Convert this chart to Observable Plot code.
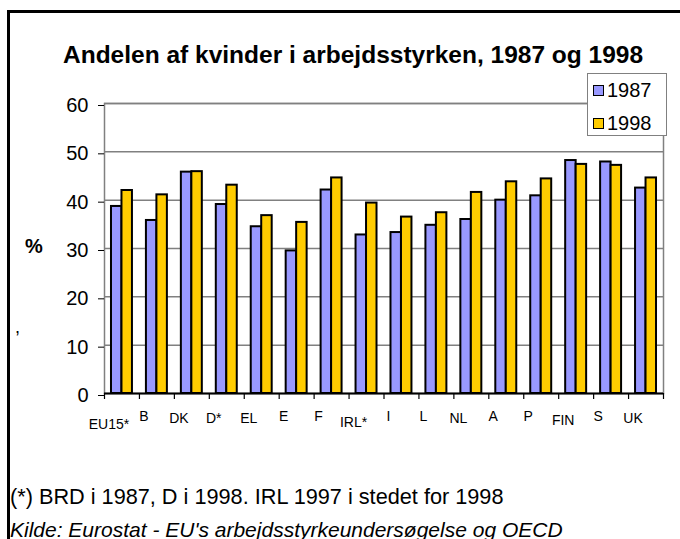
<!DOCTYPE html>
<html>
<head>
<meta charset="utf-8">
<script src="https://cdn.jsdelivr.net/npm/d3@7"></script>
<script src="https://cdn.jsdelivr.net/npm/@observablehq/plot@0.6"></script>
<style>
  html, body { margin: 0; padding: 0; background: #fff; }
  #wrap { position: relative; width: 680px; height: 539px; overflow: hidden; font-family: "Liberation Sans", Arial, sans-serif; color: #000; }
  #chart { position: absolute; left: 0; top: 0; }
  #frame { position: absolute; left: 7px; top: 10px; width: 720px; height: 600px; border-left: 3px solid #000; border-top: 3px solid #000; }
  .abs { position: absolute; white-space: nowrap; line-height: 1; }
  #title { left: 63px; top: 43px; font-size: 24.5px; font-weight: bold; }
  #ylab { left: 25px; top: 236px; font-size: 20px; font-weight: bold; }
  #comma { left: 15px; top: 318px; font-size: 18px; }
  #legend { position: absolute; left: 587px; top: 73px; width: 80px; height: 63px; border: 1px solid #808080; background: #fff; box-sizing: border-box; }
  .li { position: absolute; left: 5px; font-size: 20px; line-height: 1; display: flex; align-items: center; }
  .sw { width: 9px; height: 9px; border: 1.5px solid #000; margin-right: 3px; }
  #foot1 { left: 10px; top: 486px; font-size: 21.7px; }
  #foot2 { left: 10px; top: 519px; font-size: 21px; font-style: italic; }
</style>
</head>
<body>
<div id="wrap">
  <div id="chart"></div>
  <div id="frame"></div>
  <div id="title" class="abs"></div>
  <div id="ylab" class="abs"></div>
  <div id="comma" class="abs"></div>
  <div id="legend"></div>
  <div id="foot1" class="abs"></div>
  <div id="foot2" class="abs"></div>
</div>
<script>
// ---- data ----
const titleText = "Andelen af kvinder i arbejdsstyrken, 1987 og 1998";
const yLabel = "%";
const countries = ["EU15*","B","DK","D*","EL","E","F","IRL*","I","L","NL","A","P","FIN","S","UK"];
const v1987 = [38.7,35.8,45.8,39.1,34.5,29.5,42.1,32.8,33.3,34.8,36.0,40.0,40.9,48.2,47.9,42.5];
const v1998 = [42.0,41.1,45.9,43.1,36.8,35.4,44.6,39.4,36.5,37.4,41.6,43.8,44.4,47.4,47.2,44.6];
const seriesNames = ["1987","1998"];
const seriesColors = ["#9999ff","#ffcc00"];
const yTicks = [0,10,20,30,40,50,60];
const gridValues = [10,20,30,40,50,60];
const footnote = "(*) BRD i 1987, D i 1998. IRL 1997 i stedet for 1998";
const source = "Kilde: Eurostat - EU's arbejdsstyrkeundersøgelse og OECD";

// ---- layout ----
const W = 680, H = 539;
const mL = 104, mR = 17, mT = 103, mB = 146;
const padIn = 0.4, padOut = 0.2;
const plotW = W - mL - mR;
const step = plotW / (countries.length - padIn + 2 * padOut);
const bw = step * (1 - padIn);
const half = bw / 2;

const rows1987 = countries.map((c, i) => ({country: c, value: v1987[i]}));
const rows1998 = countries.map((c, i) => ({country: c, value: v1998[i]}));

const lengths = Array.from(new Set(countries.map(c => c.length)));
const labelMarks = lengths.map(L => Plot.text(countries.filter(c => c.length === L), {
  x: d => d, frameAnchor: "bottom", dy: 21 + 2 * L, dx: -13,
  lineAnchor: "middle", textAnchor: "middle", fontSize: 14, fill: "#000"
}));

const chart = Plot.plot({
  width: W, height: H,
  marginLeft: mL, marginRight: mR, marginTop: mT, marginBottom: mB,
  style: {fontFamily: "'Liberation Sans', Arial, sans-serif", background: "transparent", color: "#000"},
  x: {type: "band", domain: countries, paddingInner: padIn, paddingOuter: padOut, round: false, axis: null},
  y: {domain: [0, 60], axis: null},
  marks: [
    Plot.ruleY(gridValues, {stroke: "#808080", strokeWidth: 1.5}),
    Plot.frame({stroke: "#808080", strokeWidth: 1.5}),
    Plot.barY(rows1987, {x: "country", y: "value", fill: seriesColors[0], stroke: "#000", strokeWidth: 2, insetRight: half}),
    Plot.barY(rows1998, {x: "country", y: "value", fill: seriesColors[1], stroke: "#000", strokeWidth: 2, insetLeft: half}),
    Plot.ruleY([0], {stroke: "#000", strokeWidth: 2}),
    Plot.ruleX(countries, {x: d => d, y1: 0, y2: 0, insetBottom: -6, dx: -step / 2, stroke: "#000", strokeWidth: 1.2}),
    Plot.ruleX([countries[countries.length - 1]], {x: d => d, y1: 0, y2: 0, insetBottom: -6, dx: step / 2, stroke: "#000", strokeWidth: 1.2}),
    Plot.axisY({ticks: yTicks, tickSize: 6, tickPadding: 10, fontSize: 20, dy: 2, stroke: "#000", label: null}),
    ...labelMarks
  ]
});
document.getElementById("chart").appendChild(chart);

document.getElementById("title").textContent = titleText;
document.getElementById("ylab").textContent = yLabel;
document.getElementById("comma").textContent = ",";
document.getElementById("foot1").textContent = footnote;
document.getElementById("foot2").textContent = source;

const legend = document.getElementById("legend");
seriesNames.forEach((name, i) => {
  const item = document.createElement("div");
  item.className = "li";
  item.style.top = (i === 0 ? 6 : 39) + "px";
  const sw = document.createElement("div");
  sw.className = "sw";
  sw.style.background = seriesColors[i];
  const tx = document.createElement("span");
  tx.textContent = name;
  item.appendChild(sw);
  item.appendChild(tx);
  legend.appendChild(item);
});
</script>
</body>
</html>
